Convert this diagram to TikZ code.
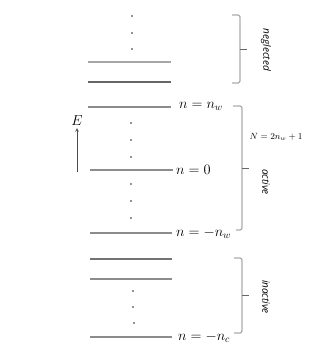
\documentclass[tikz,border=0pt]{standalone}
\usepackage{fontspec}
\newfontfamily\labelfont{Open Sans}
\begin{document}
\begin{tikzpicture}[x=1pt,y=-1pt,
  level/.style={line width=1.1pt, draw=black!45},
  dotmark/.style={fill=black!85},
  bracket/.style={draw=black!60, line width=0.6pt, rounded corners=1.5pt},
  lvllabel/.style={anchor=west, inner sep=0pt, font=\Large},
  sidetext/.style={rotate=-90, font=\labelfont\itshape\normalsize, inner sep=0pt}]
\useasboundingbox (0,0) rectangle (332,357);
% energy levels
\draw[level, draw=black!35] (88,62) -- (171,62);
\draw[level, draw=black!60] (88,82) -- (171,82);
\draw[level] (88,107) -- (171,107);
\draw[level] (90,170) -- (173,170);
\draw[level] (90,233) -- (172,233);
\draw[level, draw=black!55] (90,259) -- (172,259);
\draw[level] (90,279) -- (172,279);
\draw[level] (90,337) -- (172,337);
% level labels
\node[lvllabel] (lnw) at (179,106) {$n=n_w$};
\node[lvllabel] (l0) at (176,170) {$n=0$};
\node[lvllabel] (lmnw) at (176,233) {$n=-n_w$};
\node[lvllabel] (lnc) at (178,337) {$n=-n_c$};
% dots
\foreach \y in {16,33,49} \fill[dotmark] (132,\y) circle (0.8pt);
\foreach \y in {123,140,157} \fill[dotmark] (131,\y) circle (0.8pt);
\foreach \y in {184,201,218} \fill[dotmark] (131,\y) circle (0.8pt);
\fill[dotmark] (133,291) circle (0.8pt);
\fill[dotmark] (133,307) circle (0.8pt);
\fill[dotmark] (134,323) circle (0.8pt);
% energy axis
\node[inner sep=0pt, font=\Large] (E) at (77,121) {$E$};
\coordinate (Ebase) at (77,172);
\draw[->, >=stealth, draw=black!70, line width=0.6pt] (Ebase) -- ([yshift=-2pt]E.south);
% brackets
\draw[bracket] (232,15) -- (240,15) -- (240,83) -- (232,83);
\draw[draw=black!60, line width=0.6pt] (240,49) -- (247,49);
\draw[bracket] (233,106) -- (242,106) -- (242,230) -- (236,230);
\draw[draw=black!60, line width=0.6pt] (242,168) -- (249,168);
\draw[bracket] (234,258) -- (242,258) -- (242,333) -- (234,333);
\draw[draw=black!60, line width=0.6pt] (242,295) -- (249,295);
% bracket texts
\node[sidetext] (tneg) at (266,50) {neglected};
\node[font=\small, inner sep=0pt] (tN) at (276,137) {$N=2n_w+1$};
\node[sidetext] (tact) at (266,182) {active};
\node[sidetext] (tina) at (266,297) {inactive};
\end{tikzpicture}
\end{document}
